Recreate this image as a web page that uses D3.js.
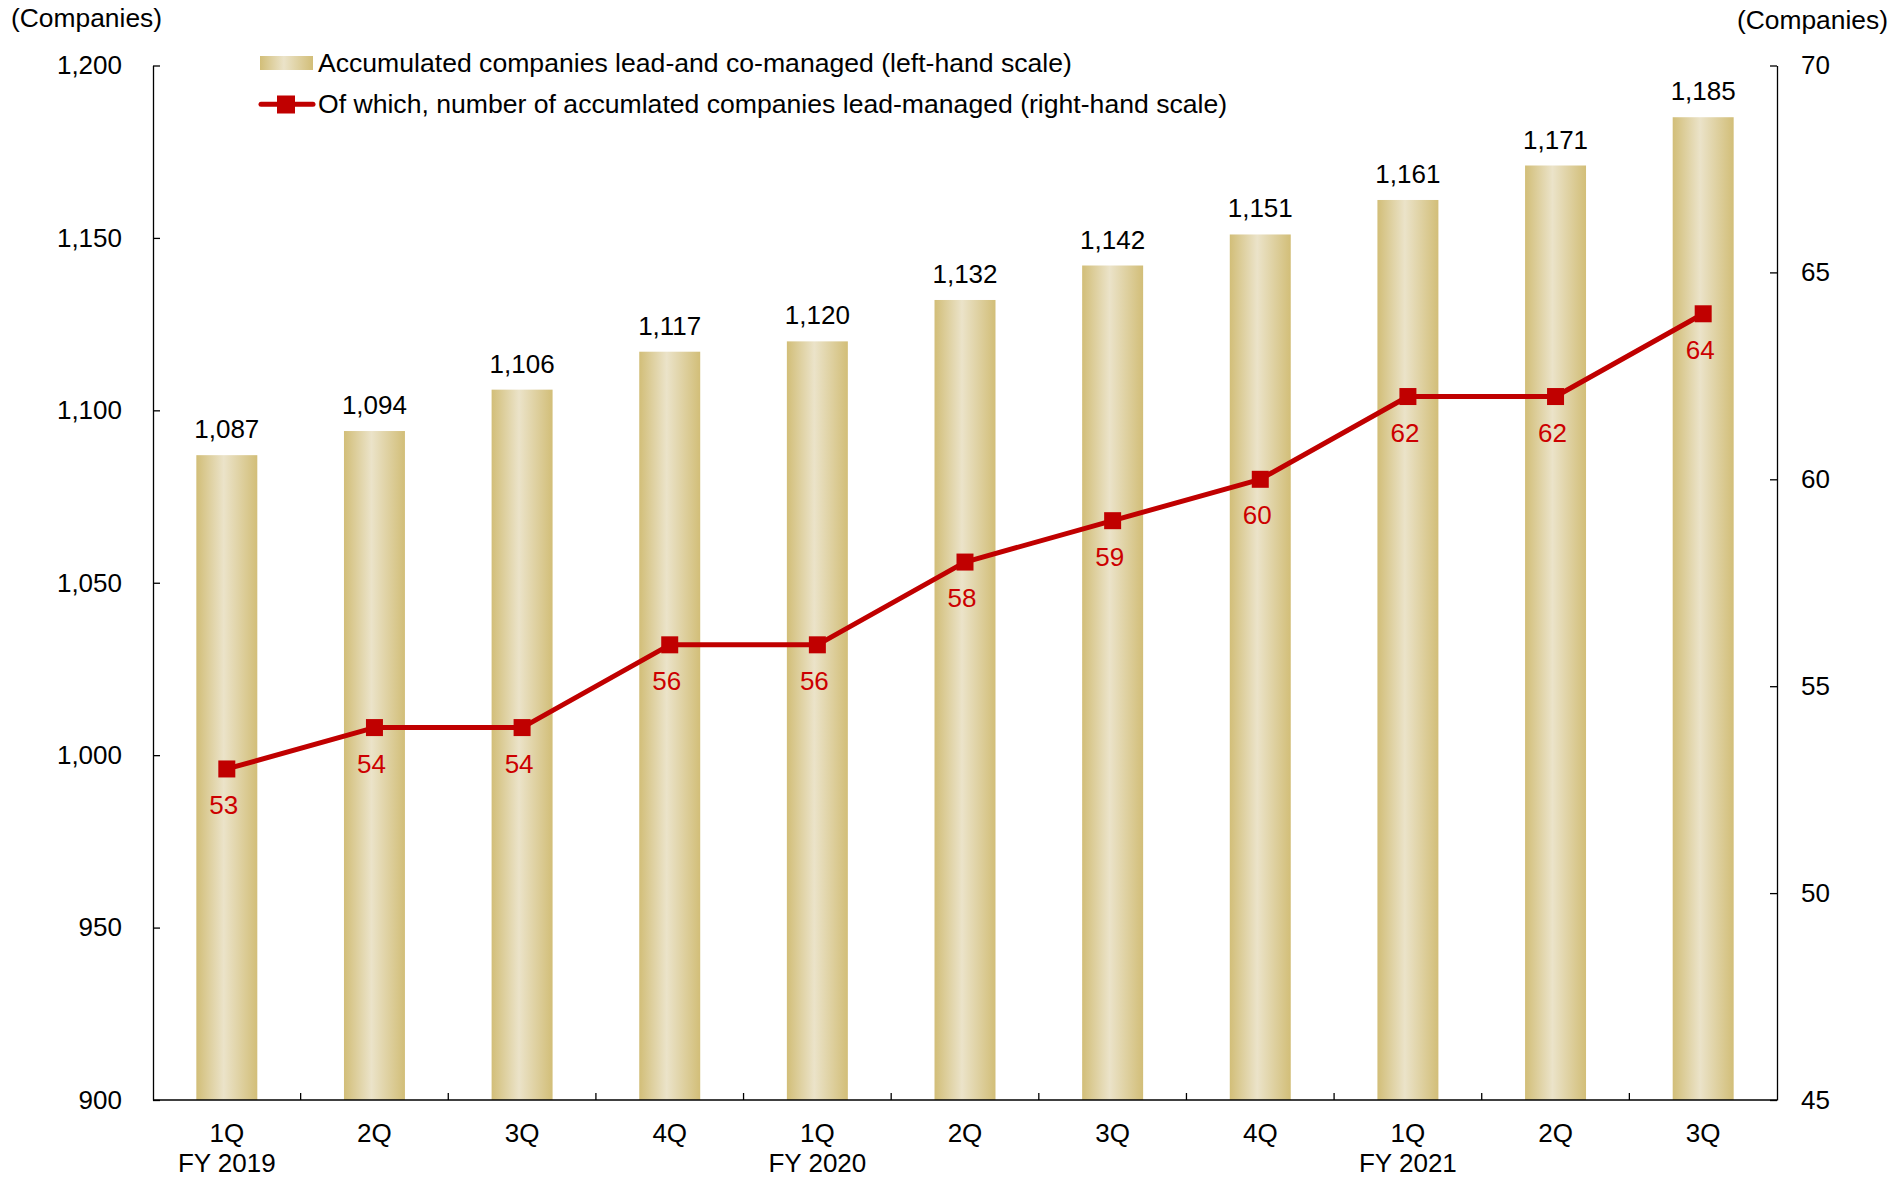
<!DOCTYPE html>
<html>
<head>
<meta charset="utf-8">
<script src="https://cdn.jsdelivr.net/npm/d3@7"></script>
<style>
  html, body { margin: 0; padding: 0; background: #fff; }
  svg { display: block; font-family: "Liberation Sans", Arial, sans-serif; }
</style>
</head>
<body>
<svg id="chart" width="1893" height="1178"></svg>
<script>
// ---- Data ----
const quarters = ["1Q","2Q","3Q","4Q","1Q","2Q","3Q","4Q","1Q","2Q","3Q"];
const fiscalYears = ["FY 2019","","","","FY 2020","","","","FY 2021","",""];
const totalCompanies = [1087,1094,1106,1117,1120,1132,1142,1151,1161,1171,1185];
const leadManaged = [53,54,54,56,56,58,59,60,62,62,64];
const leftTicks = [900,950,1000,1050,1100,1150,1200];
const rightTicks = [45,50,55,60,65,70];
const legendLabels = [
  "Accumulated companies lead-and co-managed (left-hand scale)",
  "Of which, number of accumlated companies lead-managed (right-hand scale)"
];

// ---- Layout ----
const svg = d3.select("#chart");
const L = 153, R = 1777, T = 65.5, B = 1100;
const RED = "#C00000";
const fontSize = 26;

const idx = d3.range(quarters.length);
const x = d3.scaleBand().domain(idx).range([L, R]).paddingInner(0.587).paddingOuter(0.2935);
const yL = d3.scaleLinear().domain([900, 1200]).range([B, T]);
const yR = d3.scaleLinear().domain([45, 70]).range([B, T]);

// gradient
const defs = svg.append("defs");
const grad = defs.append("linearGradient").attr("id", "gold").attr("x1", "0%").attr("x2", "100%").attr("y1", "0%").attr("y2", "0%");
grad.append("stop").attr("offset", "0%").attr("stop-color", "#D2BE78");
grad.append("stop").attr("offset", "45%").attr("stop-color", "#EBE3C9");
grad.append("stop").attr("offset", "100%").attr("stop-color", "#D2BE78");

// bars
svg.append("g").selectAll("rect").data(idx).join("rect")
  .attr("x", i => x(i))
  .attr("width", x.bandwidth())
  .attr("y", i => yL(totalCompanies[i]))
  .attr("height", i => B - yL(totalCompanies[i]))
  .attr("fill", "url(#gold)");

// bar labels
svg.append("g").selectAll("text").data(idx).join("text")
  .attr("x", i => x(i) + x.bandwidth() / 2)
  .attr("y", i => yL(totalCompanies[i]) - 17)
  .attr("text-anchor", "middle")
  .attr("font-size", fontSize)
  .attr("fill", "#000")
  .text(i => d3.format(",")(totalCompanies[i]));

// left axis
const axL = svg.append("g").attr("transform", `translate(${L},0)`)
  .call(d3.axisLeft(yL).tickValues(leftTicks).tickFormat(d3.format(",")).tickSizeInner(-7).tickSizeOuter(0).tickPadding(31));
axL.select(".domain").attr("stroke", "#000").attr("stroke-width", 1.3);
axL.selectAll(".tick line").attr("stroke", "#000").attr("stroke-width", 1.3);
axL.selectAll(".tick text").attr("font-size", fontSize).attr("fill", "#000").attr("font-family", "Liberation Sans, Arial, sans-serif");

// right axis
const axR = svg.append("g").attr("transform", `translate(${R},0)`)
  .call(d3.axisRight(yR).tickValues(rightTicks).tickSizeInner(-7).tickSizeOuter(0).tickPadding(24));
axR.select(".domain").attr("stroke", "#000").attr("stroke-width", 1.3);
axR.selectAll(".tick line").attr("stroke", "#000").attr("stroke-width", 1.3);
axR.selectAll(".tick text").attr("font-size", fontSize).attr("fill", "#000").attr("font-family", "Liberation Sans, Arial, sans-serif");

// bottom axis
const bottom = svg.append("g");
bottom.append("line").attr("x1", L).attr("x2", R).attr("y1", B).attr("y2", B).attr("stroke", "#000").attr("stroke-width", 1.3);
bottom.selectAll("line.tk").data(idx.slice(1)).join("line").attr("class", "tk")
  .attr("x1", i => x(i) - x.step() * x.paddingInner() / 2)
  .attr("x2", i => x(i) - x.step() * x.paddingInner() / 2)
  .attr("y1", B).attr("y2", B - 7)
  .attr("stroke", "#000").attr("stroke-width", 1.3);
bottom.selectAll("text.q").data(idx).join("text").attr("class", "q")
  .attr("x", i => x(i) + x.bandwidth() / 2).attr("y", 1141.5)
  .attr("text-anchor", "middle").attr("font-size", fontSize)
  .text(i => quarters[i]);
bottom.selectAll("text.fy").data(idx.filter(i => fiscalYears[i])).join("text").attr("class", "fy")
  .attr("x", i => x(i) + x.bandwidth() / 2).attr("y", 1172)
  .attr("text-anchor", "middle").attr("font-size", fontSize)
  .text(i => fiscalYears[i]);

// line
const cx = i => x(i) + x.bandwidth() / 2;
const line = d3.line().x(i => cx(i)).y(i => yR(leadManaged[i]));
svg.append("path").datum(idx).attr("d", line)
  .attr("fill", "none").attr("stroke", RED).attr("stroke-width", 5).attr("stroke-linejoin", "round");
const ms = 17;
svg.append("g").selectAll("rect").data(idx).join("rect")
  .attr("x", i => cx(i) - ms / 2).attr("y", i => yR(leadManaged[i]) - ms / 2)
  .attr("width", ms).attr("height", ms).attr("fill", RED);
svg.append("g").selectAll("text").data(idx).join("text")
  .attr("x", i => cx(i) - 3)
  .attr("y", i => yR(leadManaged[i]) + 45)
  .attr("text-anchor", "middle").attr("font-size", fontSize).attr("fill", "#CC0000")
  .text(i => leadManaged[i]);

// unit labels
svg.append("text").attr("x", 11).attr("y", 27).attr("font-size", 26.4).text("(Companies)");
svg.append("text").attr("x", 1888).attr("y", 29).attr("text-anchor", "end").attr("font-size", 26.4).text("(Companies)");

// legend
const lg = svg.append("g");
lg.append("rect").attr("x", 260).attr("y", 56).attr("width", 53).attr("height", 14).attr("fill", "url(#gold)");
lg.append("text").attr("x", 318).attr("y", 72).attr("font-size", 26.6).text(legendLabels[0]);
lg.append("line").attr("x1", 261).attr("x2", 313).attr("y1", 104.3).attr("y2", 104.3).attr("stroke", RED).attr("stroke-width", 5).attr("stroke-linecap", "round");
lg.append("rect").attr("x", 277).attr("y", 95.5).attr("width", 18).attr("height", 18).attr("fill", RED);
lg.append("text").attr("x", 318).attr("y", 113).attr("font-size", 26.6).text(legendLabels[1]);
</script>
</body>
</html>
